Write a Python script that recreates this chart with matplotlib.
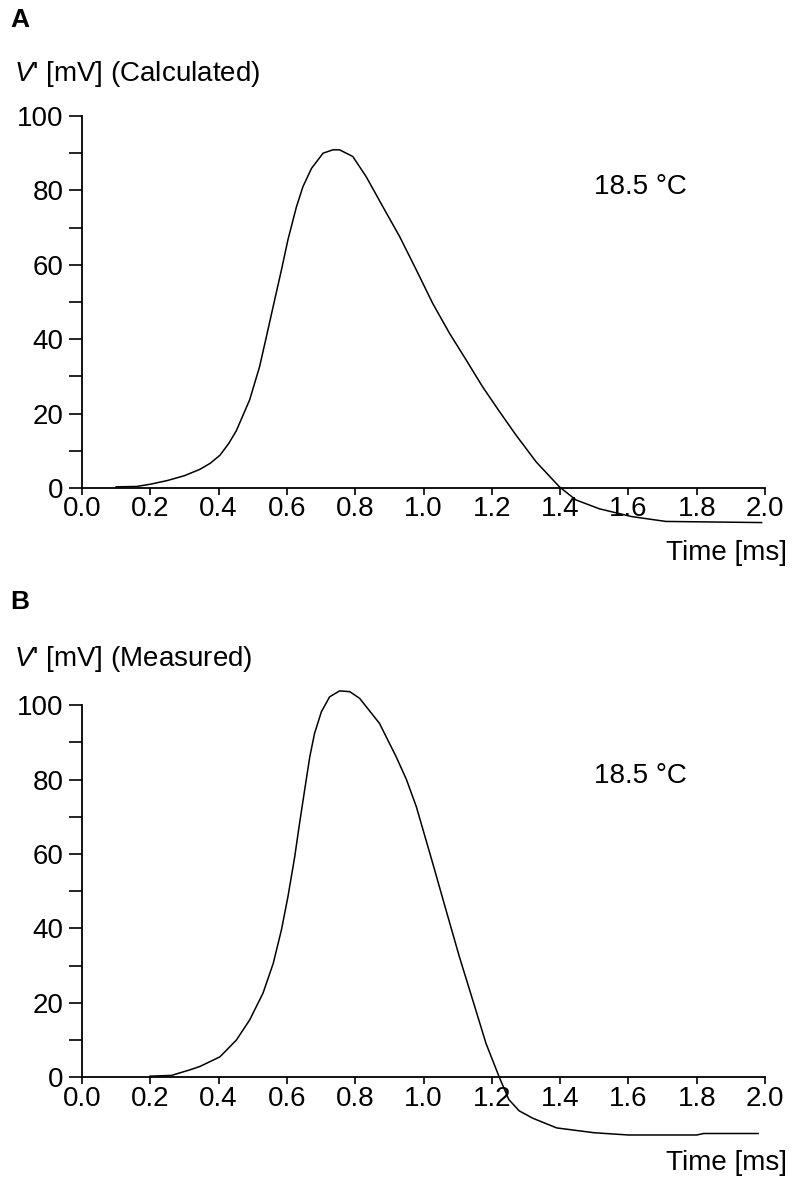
import matplotlib
matplotlib.use("Agg")
import matplotlib.pyplot as plt

plt.rcParams["font.family"] = ["Liberation Sans", "DejaVu Sans"]
plt.rcParams["mathtext.fontset"] = "custom"
plt.rcParams["mathtext.rm"] = "Liberation Sans"
plt.rcParams["mathtext.it"] = "Liberation Sans:italic"

# ---------- DATA ----------
t_calc = [0.10, 0.16, 0.20, 0.25, 0.30, 0.345, 0.375, 0.404, 0.43, 0.452,
          0.491, 0.520, 0.540, 0.564, 0.584, 0.603, 0.628, 0.647, 0.672, 0.706,
          0.735, 0.754, 0.793, 0.832, 0.881, 0.930, 0.979, 1.027, 1.076, 1.125,
          1.173, 1.222, 1.271, 1.33, 1.398, 1.446, 1.515, 1.61, 1.71, 1.99]
v_calc = [0.3, 0.4, 1.0, 2.0, 3.3, 5.0, 6.6, 8.8, 12.0, 15.4,
          23.7, 32.6, 40.7, 50.5, 58.6, 66.7, 75.6, 81, 85.9, 90,
          90.9, 90.9, 89.1, 83.7, 75.6, 67.6, 58.6, 49.6, 41.6, 34.4,
          27.2, 20.6, 14.2, 7.0, 0.3, -3.2, -5.6, -7.7, -9.0, -9.3]

t_meas = [0.199, 0.262, 0.316, 0.345, 0.404, 0.452, 0.491, 0.530, 0.560, 0.584,
          0.603, 0.623, 0.637, 0.652, 0.667, 0.681, 0.701, 0.725, 0.754, 0.784,
          0.813, 0.871, 0.92, 0.95, 0.979, 1.027, 1.066, 1.105, 1.144, 1.183,
          1.222, 1.25, 1.28, 1.32, 1.39, 1.5, 1.6, 1.8, 1.82, 1.98]
v_meas = [0.3, 0.5, 2.0, 2.9, 5.5, 10, 15.4, 22.6, 30.6, 39.6,
          48.5, 59.3, 68.2, 77.2, 86.1, 92.4, 98.2, 102.2, 103.8, 103.6,
          101.8, 95.1, 86.1, 80.0, 72.7, 57.5, 44.9, 32.4, 20.8, 9.1,
          0, -6, -9, -11, -13.6, -14.9, -15.5, -15.5, -15.1, -15.1]

x_ticks = [0.0, 0.2, 0.4, 0.6, 0.8, 1.0, 1.2, 1.4, 1.6, 1.8, 2.0]
y_ticks = [0, 20, 40, 60, 80, 100]
y_minor = [10, 30, 50, 70, 90]

panels = [
    ("A", "Calculated", t_calc, v_calc, (-12, 100), [82 / 794, 0.5494, 683 / 794, 0.3525]),
    ("B", "Measured", t_meas, v_meas, (-18, 106), [82 / 794, 0.0319, 683 / 794, 0.3905]),
]

W, H = 794, 1182
fig = plt.figure(figsize=(W / 100, H / 100), dpi=100)

fs = 20

for i, (letter, kind, t, v, ylim, pos) in enumerate(panels):
    ax = fig.add_axes(pos)
    ax.plot(t, v, color="black", lw=1.1)
    ax.set_xlim(0, 2.0)
    ax.set_ylim(*ylim)

    for s in ["top", "right"]:
        ax.spines[s].set_visible(False)
    ax.spines["bottom"].set_position(("data", 0))
    ax.spines["left"].set_bounds(0, 100)
    ax.spines["left"].set_linewidth(1.3)
    ax.spines["bottom"].set_linewidth(1.3)

    ax.set_xticks(x_ticks)
    ax.set_xticklabels([f"{x:.1f}" for x in x_ticks])
    ax.set_yticks(y_ticks)
    ax.set_yticks(y_minor, minor=True)
    ax.tick_params(axis="x", direction="out", length=5, width=1.2, pad=1,
                   labelsize=fs)
    ax.tick_params(axis="y", which="both", direction="out", length=9.5,
                   width=1.2, pad=4, labelsize=fs)
    ax.patch.set_alpha(0)

    # panel letter and axis title
    top = 1 - (8 if i == 0 else 590) / H
    fig.text(10 / W, top, letter, fontsize=19, fontweight="bold",
             va="top", ha="left")
    ylab_y = 1 - (74 if i == 0 else 659) / H
    fig.text(14 / W, ylab_y, f"$V$' [mV] ({kind})", fontsize=fs,
             va="center", ha="left")
    xlab_y = 1 - (553 if i == 0 else 1163) / H
    fig.text(787 / W, xlab_y, "Time [ms]", fontsize=fs,
             va="center", ha="right")
    ax.text(1.5, 81, "18.5 °C", fontsize=fs, va="center", ha="left")

fig.savefig("out.png", dpi=100)
